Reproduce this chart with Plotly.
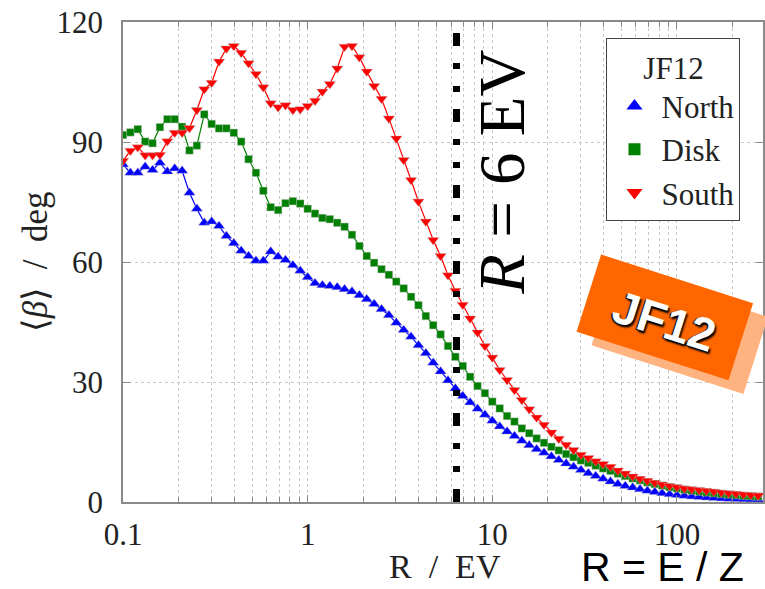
import math
import numpy as np
import plotly.graph_objects as go

# ---------------- data ----------------
# rigidity grid: 25 log-spaced samples per decade starting at 0.1 EV
r_values = np.logspace(-1, 2.44, 87)

north = [84.4, 82.3, 82.3, 83.8, 83.0, 84.8, 82.6, 83.4, 82.8, 77.3,
         73.3, 69.8, 70.1, 69.0, 66.5, 64.7, 62.8, 61.5, 60.3, 60.3,
         62.6, 61.3, 60.5, 59.2, 57.8, 56.2, 54.7, 54.2, 54.0, 53.7,
         53.2, 52.6, 51.7, 50.7, 49.5, 48.2, 46.7, 44.8, 43.0, 41.3,
         39.2, 37.2, 34.8, 32.6, 30.4, 28.4, 26.5, 24.9, 23.3, 21.8,
         20.3, 18.9, 17.6, 16.5, 15.3, 14.2, 13.2, 12.3, 11.4, 10.5,
         9.6, 8.8, 8.0, 7.2, 6.5, 5.8, 5.1, 4.5, 4.0, 3.6,
         3.2, 2.8, 2.5, 2.2, 1.95, 1.75, 1.55, 1.4, 1.25, 1.1,
         1.0, 0.9, 0.8, 0.75, 0.7, 0.65, 0.6]

disk = [91.75, 92.4, 93.2, 90.1, 89.7, 93.7, 95.7, 95.7, 93.8, 87.9,
        89.1, 96.9, 94.5, 93.4, 93.4, 92.3, 90.1, 85.7, 82.3, 77.8,
        73.7, 73.0, 74.7, 75.2, 74.6, 73.3, 72.1, 71.0, 70.7, 69.8,
        68.8, 66.8, 64.0, 61.5, 59.8, 58.2, 56.8, 55.1, 53.4, 51.3,
        49.2, 46.5, 44.2, 41.9, 39.0, 36.3, 34.0, 31.3, 29.0, 27.2,
        25.1, 23.4, 21.5, 20.1, 18.4, 17.2, 15.9, 14.8, 13.8, 12.9,
        12.0, 11.2, 10.4, 9.8, 9.1, 8.4, 7.8, 7.1, 6.5, 5.9,
        5.4, 4.9, 4.5, 4.1, 3.7, 3.4, 3.1, 2.85, 2.6, 2.4,
        2.2, 2.0, 1.85, 1.7, 1.55, 1.45, 1.35]

south = [85.3, 87.8, 88.7, 86.7, 86.7, 86.8, 90.2, 92.3, 92.3, 93.5,
         98.0, 103.2, 104.8, 110.1, 113.4, 114.0, 112.3, 109.7, 107.0, 103.7,
         99.7, 98.7, 99.2, 98.0, 98.2, 99.0, 100.3, 102.6, 104.5, 108.4,
         113.8, 114.0, 111.2, 107.6, 104.0, 100.8, 95.9, 90.9, 85.5, 80.5,
         75.1, 70.1, 65.5, 61.5, 56.7, 52.8, 49.3, 45.9, 42.4, 39.0,
         36.1, 33.0, 30.5, 28.0, 25.5, 23.2, 21.1, 19.3, 17.4, 15.8,
         14.3, 13.0, 11.8, 11.0, 10.2, 9.5, 8.8, 7.9, 7.1, 6.4,
         5.8, 5.3, 4.8, 4.35, 4.0, 3.7, 3.4, 3.2, 3.0, 2.8,
         2.6, 2.4, 2.2, 2.05, 1.9, 1.75, 1.6]

series_names = ["North", "Disk", "South"]
legend_title = "JF12"
x_tick_vals = [0.1, 1, 10, 100]
x_tick_text = ["0.1", "1", "10", "100"]
x_minor_vals = [0.2, 0.3, 0.4, 0.5, 0.6, 0.7, 0.8, 0.9,
                2, 3, 4, 5, 6, 7, 8, 9,
                20, 30, 40, 50, 60, 70, 80, 90, 200]
y_tick_vals = [0, 30, 60, 90, 120]
r_cut = 6.4

# ---------------- layout geometry ----------------
W, H = 765, 589
ML, MR, MT, MB = 123, 0, 22, 87
PW = W - ML - MR
PH = H - MT - MB


def to_paper(px, py):
    return (px - ML) / PW, (H - MB - py) / PH


def rot_rect_path(cx, cy, w, h, ang_deg):
    a = math.radians(ang_deg)
    ca, sa = math.cos(a), math.sin(a)
    pts = []
    for dx, dy in [(-w / 2, -h / 2), (w / 2, -h / 2), (w / 2, h / 2), (-w / 2, h / 2)]:
        px = cx + dx * ca - dy * sa
        py = cy + dx * sa + dy * ca
        pts.append(to_paper(px, py))
    return "M " + " L ".join(f"{x:.5f},{y:.5f}" for x, y in pts) + " Z"


SERIF = "Liberation Serif"
SANS = "Liberation Sans"
TXT = "#222222"
AX = "#8a8a8a"
GRID = "#c8c8c8"


def serif_span(t):
    return f"<span style='font-family:\"Liberation Serif\",serif'>{t}</span>"


styles = [
    (series_names[0], north, "#0000ff", "triangle-up", 10, 14),
    (series_names[1], disk, "#008000", "square", 7.5, 12),
    (series_names[2], south, "#ff0000", "triangle-down", 10, 14),
]

fig = go.Figure()
for name, vals, col, sym, size, _ in styles:
    fig.add_trace(go.Scatter(
        x=r_values, y=vals, mode="lines+markers", name=name, showlegend=False,
        line=dict(color=col, width=1.2),
        marker=dict(symbol=sym, size=size, color=col,
                    line=dict(width=0.6, color="rgba(190,190,190,0.7)")),
    ))
for name, vals, col, sym, _, lsize in styles:
    fig.add_trace(go.Scatter(
        x=[None], y=[None], mode="markers", name=serif_span(name), showlegend=True,
        marker=dict(symbol=sym, size=lsize, color=col),
    ))

shapes = [
    dict(type="line", xref="x", yref="y", x0=r_cut, x1=r_cut, y0=0, y1=118,
         line=dict(color="black", width=7, dash="13px,17px,6px,17px,6px,17px"),
         layer="above"),
    dict(type="path", xref="paper", yref="paper",
         path=rot_rect_path(681.5, 331.0, 160, 81, 17.7),
         fillcolor="#ffb380", line=dict(width=0), layer="above"),
    dict(type="path", xref="paper", yref="paper",
         path=rot_rect_path(666.5, 317.4, 160, 81, 17.7),
         fillcolor="#ff6600", line=dict(width=0), layer="above"),
]

ann = []
x, y = to_paper(503, 172)
ann.append(dict(text="<i>R</i> = 6 EV", x=x, y=y, xref="paper", yref="paper",
                xanchor="center", yanchor="middle", textangle=-90, showarrow=False,
                font=dict(family=SERIF, size=65, color="black")))
x, y = to_paper(446, 566)
ann.append(dict(text="R  /  EV", x=x, y=y, xref="paper", yref="paper",
                xanchor="center", yanchor="middle", showarrow=False,
                font=dict(family=SERIF, size=34, color=TXT)))
x, y = to_paper(35, 262)
ann.append(dict(text="⟨<i>β</i>⟩  /  deg", x=x, y=y, xref="paper", yref="paper",
                xanchor="center", yanchor="middle", textangle=-90, showarrow=False,
                font=dict(family=SERIF, size=35, color=TXT)))
x, y = to_paper(664, 567)
ann.append(dict(text="R = E / Z", x=x, y=y, xref="paper", yref="paper",
                xanchor="center", yanchor="middle", showarrow=False, borderpad=0,
                font=dict(family=SANS, size=41, color="black")))
x, y = to_paper(666, 321)
ann.append(dict(text="<b>JF12</b>", x=x, y=y, xref="paper", yref="paper",
                xanchor="center", yanchor="middle", textangle=17.7, showarrow=False,
                font=dict(family=SANS, size=46, color="white",
                          shadow="2px 2px 2px #000, -1px 1px 1px #000")))

lx, ly = to_paper(608, 38)

fig.update_layout(
    width=W, height=H,
    margin=dict(l=ML, r=MR, t=MT, b=MB, pad=0),
    paper_bgcolor="white", plot_bgcolor="white",
    font=dict(family=SERIF, size=30, color=TXT),
    showlegend=True,
    legend=dict(x=lx, y=ly, xanchor="left", yanchor="top",
                bgcolor="white", bordercolor="#444", borderwidth=1,
                font=dict(family=SERIF, size=31, color=TXT),
                title=dict(text=serif_span(legend_title), side="top center",
                           font=dict(family=SERIF, size=31, color=TXT)),
                itemwidth=44, tracegroupgap=0),
    xaxis=dict(type="log", range=[-1, 2.466],
               tickmode="array", tickvals=x_tick_vals, ticktext=x_tick_text,
               ticks="inside", ticklen=7, tickcolor=AX, tickwidth=1,
               showline=True, linecolor=AX, linewidth=1.5, mirror="ticks",
               showgrid=True, gridcolor=GRID, griddash="dot", gridwidth=1,
               minor=dict(tickmode="array", tickvals=x_minor_vals, ticks="inside",
                          ticklen=5, tickcolor=AX, showgrid=True, gridcolor=GRID,
                          griddash="dot", gridwidth=1),
               tickfont=dict(family=SERIF, size=31, color=TXT),
               ticklabelstandoff=4, zeroline=False),
    yaxis=dict(range=[0, 120], tickmode="array", tickvals=y_tick_vals,
               ticks="inside", ticklen=7, tickcolor=AX,
               showline=True, linecolor=AX, linewidth=1.5, mirror="ticks",
               showgrid=True, gridcolor=GRID, griddash="dot", gridwidth=1,
               tickfont=dict(family=SERIF, size=31, color=TXT),
               ticklabelstandoff=12, zeroline=False),
    shapes=shapes,
    annotations=ann,
)

fig.write_html("out.html")
